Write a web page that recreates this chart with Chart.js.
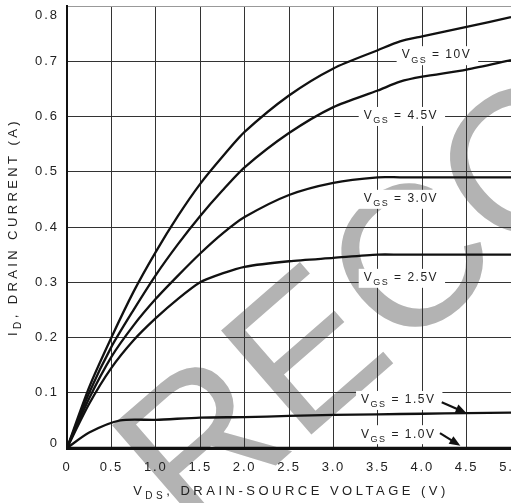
<!DOCTYPE html>
<html>
<head>
<meta charset="utf-8">
<script src="https://cdn.jsdelivr.net/npm/chart.js@4"></script>
<style>
  html, body { margin: 0; padding: 0; background: #fff; overflow: hidden; }
  canvas { display: block; }
</style>
</head>
<body>
<canvas id="ivChart" width="511" height="503"></canvas>
<script>
// Drain-source voltage (V) sample points
const vds = [0, 0.25, 0.5, 0.75, 1, 1.25, 1.5, 1.75, 2, 2.5, 3, 3.5, 3.75, 4, 4.5, 5];
const vdsLow = [0, 0.25, 0.6, 1, 1.5, 2, 2.5, 3, 3.5, 4, 4.5, 5];

// Drain current (A) for each gate voltage
const id10V = [0, 0.11, 0.2, 0.283, 0.355, 0.42, 0.478, 0.527, 0.572, 0.638, 0.687, 0.72, 0.736, 0.745, 0.762, 0.78];
const id45V = [0, 0.1, 0.183, 0.25, 0.313, 0.369, 0.42, 0.466, 0.508, 0.57, 0.617, 0.647, 0.663, 0.672, 0.685, 0.702];
const id30V = [0, 0.09, 0.165, 0.222, 0.27, 0.312, 0.352, 0.388, 0.418, 0.458, 0.48, 0.49, 0.49, 0.49, 0.49, 0.49];
const id25V = [0, 0.08, 0.145, 0.195, 0.235, 0.27, 0.3, 0.316, 0.328, 0.338, 0.344, 0.35, 0.35, 0.35, 0.35, 0.35];
const id15V = [0, 0.028, 0.05, 0.051, 0.055, 0.056, 0.058, 0.06, 0.061, 0.062, 0.063, 0.064];
const id1V = [0, 0, 0, 0, 0, 0, 0, 0, 0, 0, 0, 0];

const xTicks = { min: 0, max: 5, step: 0.5 };
const yTicks = { min: 0, max: 0.8, step: 0.1 };

const FONT = "'Liberation Sans', Arial, Helvetica, sans-serif";
const INK = "#222";

function pts(xs, ys) {
  return xs.map((x, i) => ({ x: x, y: ys[i] }));
}

function curve(label, xs, ys) {
  return {
    label: label,
    data: pts(xs, ys),
    borderColor: "#111",
    borderWidth: 2.3,
    pointRadius: 0,
    tension: 0.25,
    fill: false,
  };
}

// curve labels, anchored in data units (text centre)
const vgsNotes = [
  { text: "10V", x: 4.16, y: 0.711 },
  { text: "4.5V", x: 3.76, y: 0.601 },
  { text: "3.0V", x: 3.76, y: 0.451 },
  { text: "2.5V", x: 3.76, y: 0.308 },
  { text: "1.5V", x: 3.73, y: 0.087, arrow: [4.22, 0.083, 4.5, 0.063] },
  { text: "1.0V", x: 3.73, y: 0.025, arrow: [4.2, 0.027, 4.43, 0.004] },
];

function drawSub(ctx, x, y, parts) {
  // parts: [text, size, dy]
  let cx = x;
  parts.forEach((p) => {
    ctx.font = p[1] + "px " + FONT;
    ctx.fillText(p[0], cx, y + p[2]);
    cx += ctx.measureText(p[0]).width;
  });
  return cx;
}

function subWidth(ctx, parts) {
  let w = 0;
  parts.forEach((p) => {
    ctx.font = p[1] + "px " + FONT;
    w += ctx.measureText(p[0]).width;
  });
  return w;
}

const watermark = {
  id: "watermark",
  beforeDraw(chart) {
    const ctx = chart.ctx;
    ctx.save();
    ctx.letterSpacing = "0px";
    ctx.fillStyle = "#b3b3b3";
    ctx.font = "200px " + FONT;
    ctx.translate(190, 540);
    ctx.rotate((-41 * Math.PI) / 180);
    ctx.textBaseline = "alphabetic";
    ctx.textAlign = "left";
    ctx.fillText("RECOMMENDED", 0, 0);
    ctx.restore();
    ctx.letterSpacing = "1.8px";
  },
};

const annotations = {
  id: "annotations",
  afterDatasetsDraw(chart) {
    const ctx = chart.ctx;
    const xs = chart.scales.x;
    const ys = chart.scales.y;
    ctx.save();
    ctx.letterSpacing = "1.5px";
    ctx.textBaseline = "middle";
    ctx.textAlign = "left";
    vgsNotes.forEach((n) => {
      const cx = xs.getPixelForValue(n.x);
      const cy = ys.getPixelForValue(n.y);
      const parts = [["V", 12, 0], ["GS", 9, 5], [" = " + n.text, 12, 0]];
      const w = subWidth(ctx, parts);
      const x0 = cx - w / 2;
      ctx.fillStyle = "#fff";
      ctx.fillRect(x0 - 5, cy - 9, w + 12, 19);
      ctx.fillStyle = INK;
      drawSub(ctx, x0, cy, parts);
      if (n.arrow) {
        const a = n.arrow;
        const x1 = xs.getPixelForValue(a[0]);
        const y1 = ys.getPixelForValue(a[1]);
        const x2 = xs.getPixelForValue(a[2]);
        const y2 = ys.getPixelForValue(a[3]);
        const ang = Math.atan2(y2 - y1, x2 - x1);
        ctx.strokeStyle = "#111";
        ctx.lineWidth = 2.2;
        ctx.beginPath();
        ctx.moveTo(x1, y1);
        ctx.lineTo(x2 - 6 * Math.cos(ang), y2 - 6 * Math.sin(ang));
        ctx.stroke();
        ctx.fillStyle = "#111";
        ctx.beginPath();
        ctx.moveTo(x2, y2);
        ctx.lineTo(x2 - 11 * Math.cos(ang) + 4.5 * Math.sin(ang), y2 - 11 * Math.sin(ang) - 4.5 * Math.cos(ang));
        ctx.lineTo(x2 - 11 * Math.cos(ang) - 4.5 * Math.sin(ang), y2 - 11 * Math.sin(ang) + 4.5 * Math.cos(ang));
        ctx.closePath();
        ctx.fill();
      }
    });
    ctx.restore();
  },
  afterDraw(chart) {
    const ctx = chart.ctx;
    const area = chart.chartArea;
    const ys = chart.scales.y;
    ctx.save();
    ctx.fillStyle = INK;

    // y tick labels, kept inside the plot height
    ctx.letterSpacing = "2px";
    ctx.font = "13px " + FONT;
    ctx.textAlign = "right";
    ctx.textBaseline = "middle";
    ys.ticks.forEach((t) => {
      let y = ys.getPixelForValue(t.value);
      y = Math.min(Math.max(y, area.top + 9), area.bottom - 5);
      ctx.fillText(t.label, 59, y);
    });

    // axis titles
    ctx.letterSpacing = "3.5px";
    ctx.textAlign = "left";
    const xParts = [["V", 13, 0], ["DS", 10, 5], [", DRAIN-SOURCE VOLTAGE (V)", 13, 0]];
    const xw = subWidth(ctx, xParts);
    drawSub(ctx, (area.left + area.right) / 2 - xw / 2 + 2, 491, xParts);

    ctx.letterSpacing = "3.4px";
    const yParts = [["I", 13, 0], ["D", 10, 5], [", DRAIN CURRENT (A)", 13, 0]];
    const yw = subWidth(ctx, yParts);
    ctx.translate(13, (area.top + area.bottom) / 2);
    ctx.rotate(-Math.PI / 2);
    drawSub(ctx, -yw / 2, 0, yParts);
    ctx.restore();
  },
};

const gridColor = (c) => (Math.abs(c.tick.value - yTicks.max) < 1e-6 ? "#999" : "#333");

new Chart(document.getElementById("ivChart"), {
  type: "line",
  data: {
    datasets: [
      curve("VGS = 10V", vds, id10V),
      curve("VGS = 4.5V", vds, id45V),
      curve("VGS = 3.0V", vds, id30V),
      curve("VGS = 2.5V", vds, id25V),
      curve("VGS = 1.5V", vdsLow, id15V),
      curve("VGS = 1.0V", vdsLow, id1V),
    ],
  },
  options: {
    responsive: false,
    animation: false,
    devicePixelRatio: 1,
    layout: { padding: { top: 6, right: 0, left: 0, bottom: 0 } },
    plugins: { legend: { display: false }, tooltip: { enabled: false } },
    scales: {
      x: {
        type: "linear",
        min: xTicks.min,
        max: xTicks.max,
        ticks: {
          stepSize: xTicks.step,
          color: INK,
          padding: 12,
          maxRotation: 0,
          font: { size: 13, family: FONT },
        },
        grid: { color: "#333", lineWidth: 1, drawTicks: false },
        border: { color: "#111", width: 3 },
        afterFit(s) {
          s.height = 55;
          s.paddingLeft = 0;
          s.paddingRight = 0;
        },
      },
      y: {
        min: yTicks.min,
        max: yTicks.max,
        ticks: { stepSize: yTicks.step, display: false },
        grid: { color: gridColor, lineWidth: 1, drawTicks: false },
        border: { color: "#111", width: 2 },
        afterFit(s) {
          s.width = 67;
          s.paddingTop = 0;
          s.paddingBottom = 0;
        },
      },
    },
  },
  plugins: [watermark, annotations],
});
</script>
</body>
</html>
